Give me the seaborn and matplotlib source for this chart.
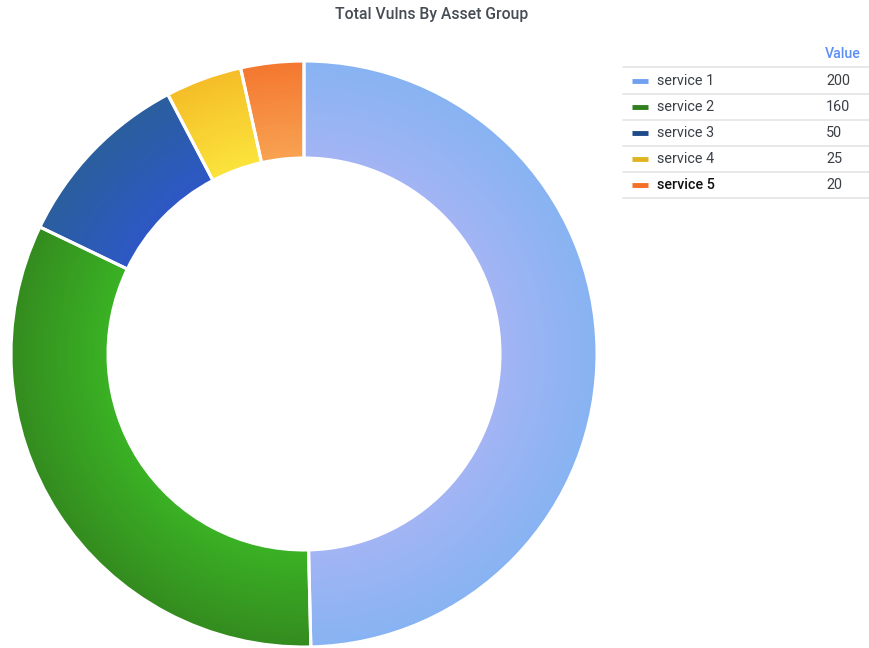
import numpy as np
import matplotlib
matplotlib.use("Agg")
import matplotlib.pyplot as plt
import seaborn as sns
from matplotlib.colors import to_rgb

sns.set_theme(style="white")
plt.rcParams['font.family'] = ['Roboto', 'DejaVu Sans']

# Data
categories = ["service 1", "service 2", "service 3", "service 4", "service 5"]
legend_values = [200, 160, 50, 25, 20]
slice_values = [200, 131, 41, 17, 14]   # proportions as drawn in the donut
inner_colors = ["#A3B4F4", "#3AB224", "#2D58C6", "#FBE43C", "#F8A352"]
outer_colors = ["#88B3F2", "#348C1F", "#2A5E9E", "#F5BE28", "#F47830"]
swatch_colors = ["#72A0F0", "#2F7F1F", "#1F4A8A", "#E0B420", "#F57025"]

W, H = 869, 648
fig = plt.figure(figsize=(W / 100, H / 100), dpi=100)
fig.patch.set_facecolor("white")

cx, cy, R = 304, 354, 293
ax = fig.add_axes([(cx - R) / W, (H - cy - R) / H, 2 * R / W, 2 * R / H])
ax.axis("off")

r_in = 196 / 293
n = 40
radii = np.linspace(r_in, 1.0, n + 1)
for k in range(n):
    t = k / (n - 1)
    cols = [tuple((1 - t) * np.array(to_rgb(a)) + t * np.array(to_rgb(b)))
            for a, b in zip(inner_colors, outer_colors)]
    dr = radii[k + 1] - radii[k]
    ax.pie(slice_values, radius=radii[k + 1], colors=cols, startangle=90,
           counterclock=False,
           wedgeprops=dict(width=dr * (1.0 if k == 0 else 1.6), linewidth=0,
                           antialiased=True))

# white separators
ax.pie(slice_values, radius=1.0, colors=["none"] * 5, startangle=90,
       counterclock=False,
       wedgeprops=dict(width=1 - r_in, linewidth=2.2, edgecolor="white", fill=False))
ax.set_aspect("equal")
ax.set_xlim(-1.0, 1.0)
ax.set_ylim(-1.0, 1.0)

# Title
fig.text(432 / W, 1 - 15 / H, "Total Vulns By Asset Group", ha="center", va="center",
         fontsize=11.3, fontweight="medium", color="#464C54")

# Legend table
fig.text(861 / W, 1 - 54 / H, "Value", ha="right", va="center", fontsize=10.2,
         fontweight="medium", color="#5B8FF5")
line_ys = [67, 94, 120, 146, 172, 198]
for y in line_ys:
    fig.add_artist(plt.Line2D([623 / W, 869 / W], [1 - y / H, 1 - y / H],
                              color="#E4E4E4", linewidth=1.2))
for i, (cat, val) in enumerate(zip(categories, legend_values)):
    y = 1 - (81 + i * 26) / H
    fig.add_artist(plt.Line2D([632 / W, 648 / W], [y, y], color=swatch_colors[i],
                              linewidth=3.5, solid_capstyle="butt"))
    bold = (i == len(categories) - 1)
    fig.text(657 / W, y, cat, ha="left", va="center", fontsize=10.4,
             color="#111111" if bold else "#3A3F46",
             fontweight="medium" if bold else "normal")
    fig.text(826 / W, y, str(val), ha="left", va="center", fontsize=10.4,
             color="#3A3F46")

fig.savefig("out.png", dpi=100, facecolor="white")
